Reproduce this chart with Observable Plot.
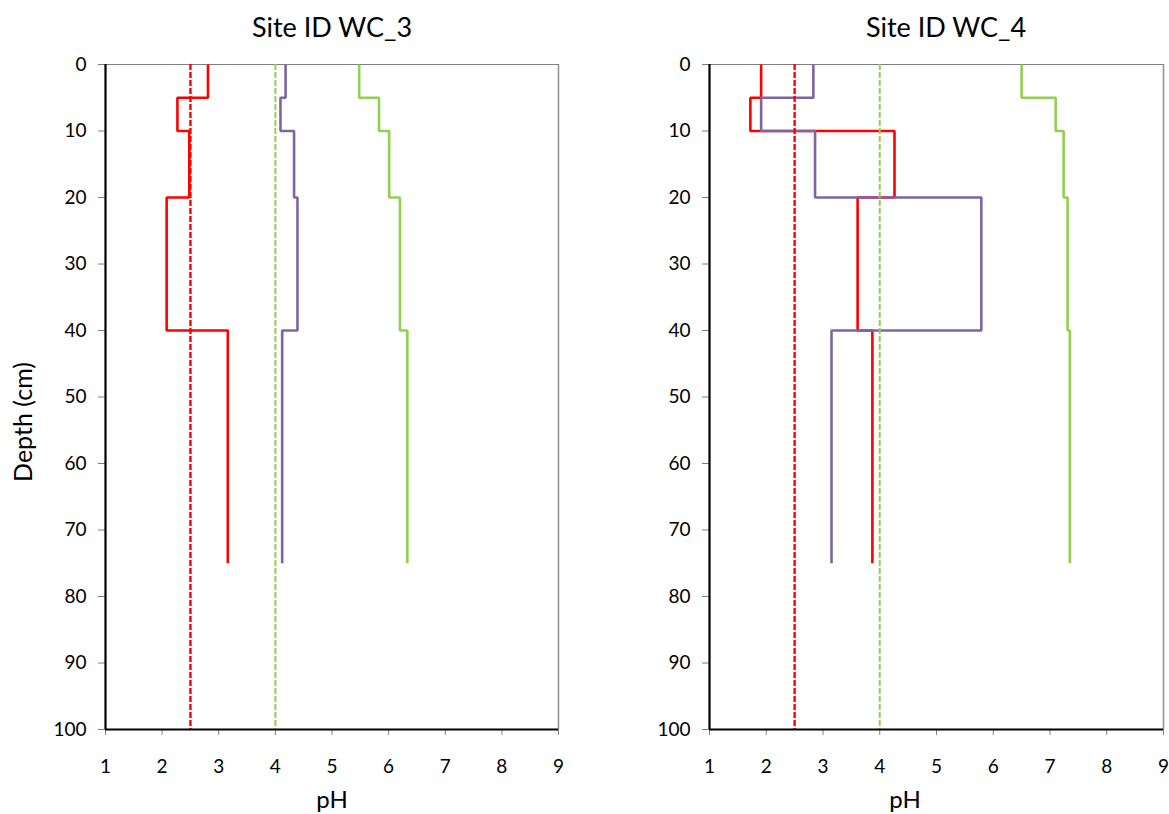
<!DOCTYPE html>
<html>
<head>
<meta charset="utf-8">
<script src="https://cdn.jsdelivr.net/npm/d3@7"></script>
<script src="https://cdn.jsdelivr.net/npm/@observablehq/plot@0.6"></script>
<style>
  body { margin: 0; background: #fff; }
  #wrap { position: relative; width: 1169px; height: 814px; font-family: Lato, "Open Sans", sans-serif; color: #000; }
  .panel { position: absolute; top: 0; }
  .title { position: absolute; top: 10px; font-size: 27px; text-align: center; white-space: nowrap; }
  .xlab { position: absolute; top: 784px; font-size: 24px; text-align: center; }
  .ylab { position: absolute; font-size: 25px; white-space: nowrap; transform: rotate(-90deg); transform-origin: center center; }
</style>
</head>
<body>
<div id="wrap"></div>
<script>
// ---- data ----
const depthTop    = [0, 5, 10, 20, 40];
const depthBottom = [5, 10, 20, 40, 75];
const wc3Red    = [2.81, 2.27, 2.48, 2.08, 3.16];
const wc3Purple = [4.18, 4.09, 4.33, 4.39, 4.12];
const wc3Green  = [5.48, 5.83, 6.01, 6.20, 6.33];
const wc4Red    = [1.91, 1.72, 4.26, 3.61, 3.87];
const wc4Purple = [2.83, 1.91, 2.86, 5.79, 3.15];
const wc4Green  = [6.50, 7.10, 7.24, 7.31, 7.35];
const refRed = 2.5;
const refGreen = 4;
const xTicks = [1, 2, 3, 4, 5, 6, 7, 8, 9];
const yTicks = [0, 10, 20, 30, 40, 50, 60, 70, 80, 90, 100];
const titles = ["Site ID WC_3", "Site ID WC_4"];

const colRed = "#FF0000", colPurple = "#8064A2", colGreen = "#92D050";

function steps(vals) {
  return vals.flatMap((v, i) => [{ph: v, d: depthTop[i]}, {ph: v, d: depthBottom[i]}]);
}

function panel(red, purple, green, opts) {
  return Plot.plot({
    width: opts.width, height: 814,
    marginLeft: opts.ml, marginRight: opts.mr, marginTop: 64, marginBottom: 85,
    x: {domain: [1, 9]},
    y: {domain: [0, 100], reverse: true},
    style: {fontFamily: "Lato, 'Open Sans', sans-serif", fontSize: "19px", color: "#000", background: "transparent", overflow: "visible"},
    marks: [
      Plot.ruleY([0], {stroke: "#7f7f7f", strokeWidth: 1.2}),
      Plot.ruleX([9], {stroke: "#8f8f8f", strokeWidth: 1.5}),
      Plot.axisY({ticks: yTicks, tickSize: 7, tickPadding: 12, stroke: "#7f7f7f", fill: "#000", fontSize: 19, label: null}),
      Plot.axisX({ticks: xTicks, tickSize: 6, tickPadding: 24, stroke: "#7f7f7f", fill: "#000", fontSize: 19, label: null}),
      Plot.line(steps(red), {x: "ph", y: "d", stroke: colRed, strokeWidth: 2.6, strokeLinejoin: "miter", strokeLinecap: "butt"}),
      Plot.line(steps(purple), {x: "ph", y: "d", stroke: colPurple, strokeWidth: 2.6, strokeLinejoin: "miter", strokeLinecap: "butt"}),
      Plot.line(steps(green), {x: "ph", y: "d", stroke: colGreen, strokeWidth: 2.6, strokeLinejoin: "miter", strokeLinecap: "butt"}),
      Plot.ruleX([refRed], {stroke: colRed, strokeWidth: 2.4, strokeDasharray: "6,2"}),
      Plot.ruleX([refGreen], {stroke: colGreen, strokeWidth: 2, strokeDasharray: "6,2"}),
      Plot.ruleX([1], {stroke: "#000", strokeWidth: 2.2}),
      Plot.ruleY([100], {stroke: "#000", strokeWidth: 2.2})
    ]
  });
}

const wrap = document.getElementById("wrap");

const p1 = panel(wc3Red, wc3Purple, wc3Green, {width: 584, ml: 105, mr: 26});
const d1 = document.createElement("div"); d1.className = "panel"; d1.style.left = "0px"; d1.appendChild(p1); wrap.appendChild(d1);

const p2 = panel(wc4Red, wc4Purple, wc4Green, {width: 585, ml: 125, mr: 6});
const d2 = document.createElement("div"); d2.className = "panel"; d2.style.left = "584px"; d2.appendChild(p2); wrap.appendChild(d2);

function addText(cls, text, css) {
  const el = document.createElement("div");
  el.className = cls; el.textContent = text;
  Object.assign(el.style, css);
  wrap.appendChild(el);
  return el;
}
addText("title", titles[0], {left: "182px", width: "300px"});
addText("title", titles[1], {left: "796px", width: "300px"});
addText("xlab", "pH", {left: "282px", width: "100px"});
addText("xlab", "pH", {left: "855px", width: "100px"});
addText("ylab", "Depth (cm)", {left: "-48px", top: "407px", width: "140px", textAlign: "center"});
</script>
</body>
</html>
